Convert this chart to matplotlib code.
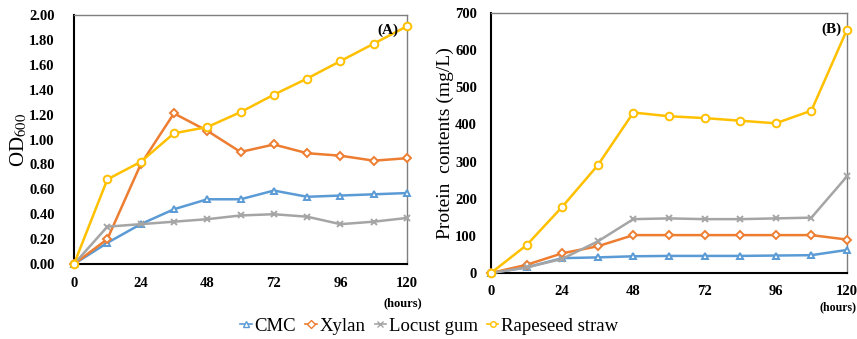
import matplotlib.pyplot as plt
from matplotlib.lines import Line2D

# ---- data ----
HOURS = [0, 12, 24, 36, 48, 60, 72, 84, 96, 108, 120]
SERIES = ["CMC", "Xylan", "Locust gum", "Rapeseed straw"]

od_cmc = [0.00, 0.17, 0.32, 0.44, 0.52, 0.52, 0.59, 0.54, 0.55, 0.56, 0.57]
od_xylan = [0.00, 0.20, 0.80, 1.21, 1.07, 0.90, 0.96, 0.89, 0.87, 0.83, 0.85]
od_locust = [0.00, 0.30, 0.32, 0.34, 0.36, 0.39, 0.40, 0.38, 0.32, 0.34, 0.37]
od_rape = [0.00, 0.68, 0.82, 1.05, 1.10, 1.22, 1.36, 1.49, 1.63, 1.77, 1.91]

prot_cmc = [0, 15, 40, 42, 45, 46, 46, 46, 47, 48, 62]
prot_xylan = [0, 22, 53, 72, 102, 102, 102, 102, 102, 102, 90]
prot_locust = [0, 15, 38, 85, 145, 147, 145, 145, 147, 149, 260]
prot_rape = [0, 75, 178, 290, 432, 422, 417, 410, 403, 437, 655]

OD_TICKS = [0.0, 0.2, 0.4, 0.6, 0.8, 1.0, 1.2, 1.4, 1.6, 1.8, 2.0]
PROT_TICKS = [0, 100, 200, 300, 400, 500, 600, 700]
X_TICKS = [0, 24, 48, 72, 96, 120]

COLORS = ["#5B9BD5", "#ED7D31", "#A5A5A5", "#FFC000"]
MARKERS = ["^", "D", "x", "o"]
MSIZE = [5, 4, 5, 5.5]

plt.rcParams["font.family"] = ["Liberation Serif", "DejaVu Serif"]
plt.rcParams["mathtext.fontset"] = "stix"

fig = plt.figure(figsize=(8.57, 3.39), dpi=100)
axA = fig.add_axes([0.0864, 0.2212, 0.3886, 0.7345])
axB = fig.add_axes([0.5729, 0.1947, 0.4154, 0.7670])


def draw(ax, data):
    for vals, c, m, ms in zip(data, COLORS, MARKERS, MSIZE):
        ax.plot(HOURS, vals, color=c, lw=1.8, marker=m, ms=ms,
                mfc="white" if m != "x" else c, mec=c, mew=1.4,
                clip_on=False, zorder=3)
    ax.set_xlim(0, 120)
    ax.set_xticks(X_TICKS)
    for s in ax.spines.values():
        s.set_color("#7f7f7f")
        s.set_linewidth(1.0)
    ax.spines["left"].set_color("black")
    ax.spines["left"].set_linewidth(1.5)
    ax.spines["bottom"].set_color("black")
    ax.spines["bottom"].set_linewidth(1.5)
    ax.tick_params(length=0, labelsize=10.5)
    ax.tick_params(axis="x", pad=9)
    for lab in ax.get_xticklabels() + ax.get_yticklabels():
        lab.set_fontweight("bold")


draw(axA, [od_cmc, od_xylan, od_locust, od_rape])
axA.set_ylim(0, 2.0)
axA.set_yticks(OD_TICKS)
axA.set_yticklabels([f"{v:.2f}" for v in OD_TICKS], fontweight="bold")
axA.tick_params(axis="y", pad=14)
axA.set_ylabel("OD$_{600}$", fontsize=15, labelpad=0)
axA.text(0.975, 0.965, "(A)", transform=axA.transAxes, ha="right", va="top",
         fontsize=11, fontweight="bold")
fig.text(422 / 857, 1 - 303 / 339, "(hours)", ha="right", va="center",
         fontsize=9, fontweight="bold")

draw(axB, [prot_cmc, prot_xylan, prot_locust, prot_rape])
axB.set_ylim(0, 700)
axB.set_yticks(PROT_TICKS)
axB.set_yticklabels([str(v) for v in PROT_TICKS], fontweight="bold")
axB.tick_params(axis="y", pad=10)
axB.set_ylabel("Protein  contents (mg/L)", fontsize=14, labelpad=1)
axB.text(0.985, 0.965, "(B)", transform=axB.transAxes, ha="right", va="top",
         fontsize=11, fontweight="bold")
fig.text(856 / 857, 1 - 307 / 339, "(hours)", ha="right", va="center",
         fontsize=8.5, fontweight="bold")

handles = [Line2D([], [], color=c, lw=1.2, marker=m, ms=4,
                  mfc="white" if m != "x" else c, mec=c)
           for c, m in zip(COLORS, MARKERS)]
fig.legend(handles, SERIES, loc="center", bbox_to_anchor=(0.501, 1 - 326 / 339),
           ncol=4, frameon=False, fontsize=13.5, handlelength=0.6,
           handletextpad=0.15, columnspacing=0.5, borderpad=0)

fig.savefig("out.png", dpi=100)
